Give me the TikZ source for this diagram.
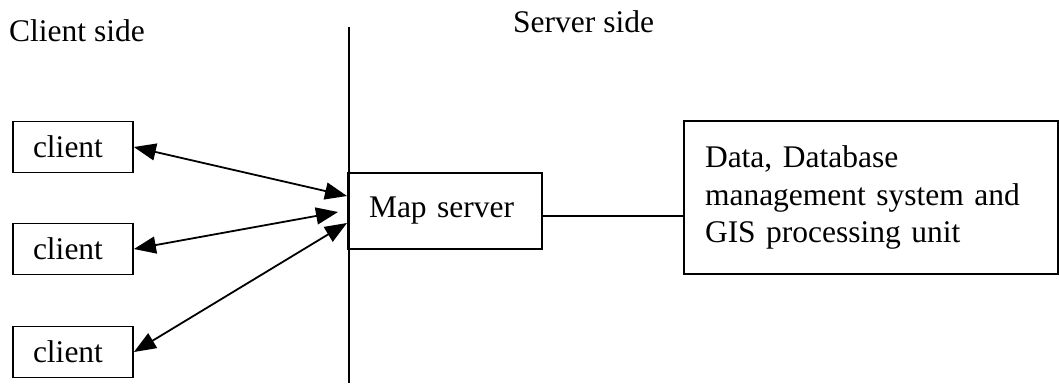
\documentclass[tikz,border=0pt]{standalone}
\usepackage{fontspec}
\setmainfont{Liberation Serif}
\usetikzlibrary{arrows.meta}

\tikzset{
	box/.style={draw, line width=1.8pt, inner sep=0pt, inner xsep=20pt, align=left},
	link/.style={line width=1.8pt, {Triangle[length=22pt,width=17pt]}-{Triangle[length=22pt,width=17pt]}}
}

\begin{document}
\begin{tikzpicture}[x=1pt, y=-1pt, every node/.style={font=\fontsize{31.5pt}{37.5pt}\selectfont}]
				\useasboundingbox (0,0) rectangle (1059,383);
				
				\node[anchor=base west, inner sep=0pt] (clientside) at (9,41) {Client side};
				\node[anchor=base west, inner sep=0pt] (serverside) at (513,32) {Server side};
				
				\coordinate (divtop) at (349,27);
				\coordinate (divbot) at (349,383);
				\draw[line width=2pt] (divtop) -- (divbot);
				
				\node[box, text width=80pt, minimum height=51pt] (client1) at (73,147) {client};
				\node[box, text width=80pt, minimum height=51pt] (client2) at (73,249) {client};
				\node[box, text width=80pt, minimum height=51pt] (client3) at (73,352) {client};
				
				\node[box, inner xsep=21pt, text width=152pt, minimum height=76pt] (map) at (445,211) {Map server};
				\node[box, inner xsep=21pt, text width=332pt, minimum height=153pt] (data) at (871,197.5)
				{Data, Database\\management system and\\GIS processing unit};
				
				\coordinate (m1) at (347,196);
				\coordinate (m2) at (338,212);
				\coordinate (m3) at (347,223);
				\draw[link] (client1.east) -- (m1);
				\draw[link] (client2.east) -- (m2);
				\draw[link] (client3.east) -- (m3);
				
				\draw[line width=1.8pt] ([yshift=-5pt]map.east) -- ([yshift=-5pt]map.east -| data.west);
			\end{tikzpicture}
\end{document}
